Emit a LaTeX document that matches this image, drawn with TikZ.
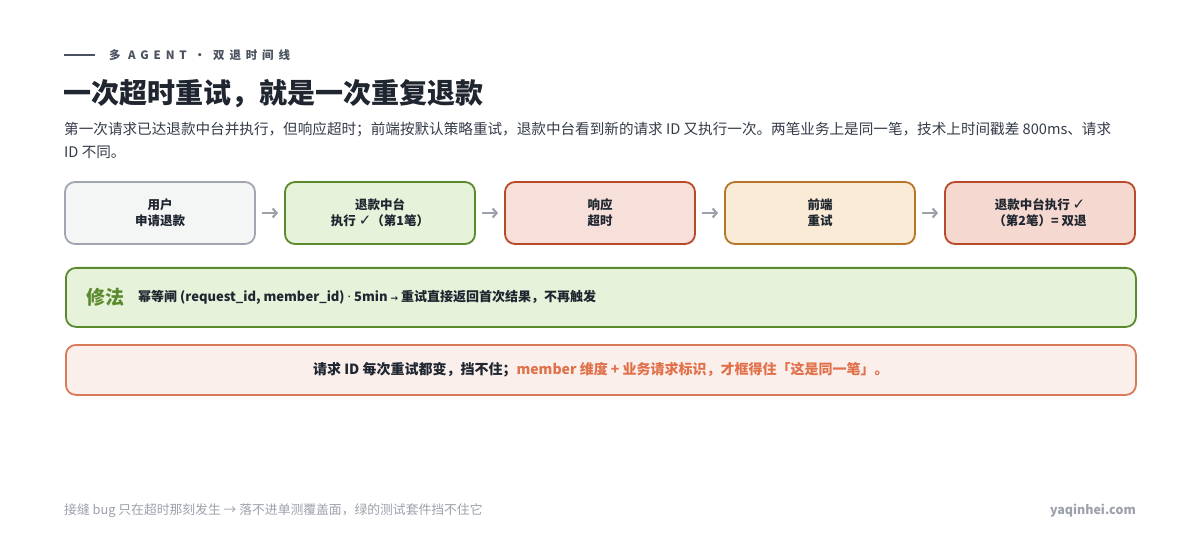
\documentclass[tikz,border=0pt]{standalone}
\usepackage{fontspec}
\setmainfont{Noto Sans CJK SC}
\newfontfamily\checkfont{DejaVu Sans}
\newfontfamily\latinfont{Noto Sans}
\usetikzlibrary{arrows.meta}
\definecolor{ink}{HTML}{1F2630}
\definecolor{subink}{HTML}{343C48}
\definecolor{muted}{HTML}{9CA1AB}
\definecolor{headink}{HTML}{4A5260}
\definecolor{grayfill}{HTML}{F4F6F6}
\definecolor{grayline}{HTML}{A0A5AF}
\definecolor{greenfill}{HTML}{E6F2DA}
\definecolor{greenline}{HTML}{5B8A2E}
\definecolor{redfill}{HTML}{F8E0DA}
\definecolor{redline}{HTML}{B84A2A}
\definecolor{amberfill}{HTML}{FAEBD6}
\definecolor{amberline}{HTML}{B5762A}
\definecolor{darkredfill}{HTML}{F5D8CF}
\definecolor{notefill}{HTML}{FBEFEC}
\definecolor{noteline}{HTML}{D97A5A}
\definecolor{noteorange}{HTML}{E0714A}
\newcommand{\chk}{{\checkfont\bfseries\fontsize{15}{16}\selectfont ✓}}
\tikzset{
  stepbox/.style={draw, line width=1.8pt, rounded corners=10pt, minimum width=190pt, minimum height=62pt,
    align=center, text=ink, font=\bfseries\fontsize{12.5}{16}\selectfont, inner sep=0pt},
  flowarrow/.style={draw=muted, line width=2.2pt, -{Straight Barb[length=4pt,width=9pt]}, shorten <=6pt, shorten >=6pt},
  widebox/.style={draw, line width=1.8pt, rounded corners=10pt, minimum width=1070pt, inner sep=0pt, anchor=north west},
}
\begin{document}
\begin{tikzpicture}[x=1pt,y=-1pt]
\useasboundingbox[fill=white] (0,0) rectangle (1200,540);
% header
\coordinate (hl1) at (64,55);
\coordinate (hl2) at (95,55);
\draw[headink, line width=1.5pt] (hl1) -- (hl2);
\node[anchor=base west, inner sep=0pt, text=headink, font=\bfseries\fontsize{11.5}{14}\selectfont\addfontfeatures{LetterSpace=42}] (kicker) at (109,59.5) {多 AGENT · 双退时间线};
% title
\node[anchor=base west, inner sep=0pt, text=ink, font=\bfseries\fontsize{28}{32}\selectfont] (title) at (63,104) {一次超时重试，就是一次重复退款};
% subtitle
\node[anchor=base west, inner sep=0pt, text=subink, align=left, font=\fontsize{14.6}{23}\selectfont] (sub) at (64,157.5)
 {第一次请求已达退款中台并执行，但响应超时；前端按默认策略重试，退款中台看到新的请求 ID 又执行一次。两笔业务上是同一笔，技术上时间戳差 800ms、请求\\ID 不同。};
% flow boxes
\node[stepbox, fill=grayfill, draw=grayline] (b1) at (160,213) {用户\\申请退款};
\node[stepbox, fill=greenfill, draw=greenline] (b2) at (380,213) {退款中台\\执行 \chk（第1笔）};
\node[stepbox, fill=redfill, draw=redline] (b3) at (600,213) {响应\\超时};
\node[stepbox, fill=amberfill, draw=amberline] (b4) at (820,213) {前端\\重试};
\node[stepbox, fill=darkredfill, draw=redline] (b5) at (1040,213) {退款中台执行 \chk\\（第2笔）= 双退};
\draw[flowarrow] (b1) -- (b2);
\draw[flowarrow] (b2) -- (b3);
\draw[flowarrow] (b3) -- (b4);
\draw[flowarrow] (b4) -- (b5);
% fix box
\node[widebox, fill=greenfill, draw=greenline, minimum height=59pt] (fix) at (65,267) {};
\node[anchor=west, inner sep=0pt, text=greenline, font=\bfseries\fontsize{19}{22}\selectfont] (fixlabel) at (86,297) {修法};
\node[anchor=west, inner sep=0pt, text=ink, font=\bfseries\fontsize{13}{16}\selectfont] (fixtext) at (138,297) {幂等闸 (request\_id, member\_id) {\latinfont ·} 5min {\checkfont\bfseries\fontsize{9}{12}\selectfont →} 重试直接返回首次结果，不再触发};
% note box
\node[widebox, fill=notefill, draw=noteline, minimum height=50pt] (note) at (65,344) {};
\node[inner sep=0pt, font=\bfseries\fontsize{14}{17}\selectfont] (notetext) at (note.center)
 {\textcolor{ink}{请求 ID 每次重试都变，挡不住；}\textcolor{noteorange}{member 维度 + 业务请求标识，才框得住「这是同一笔」。}};
% footer
\node[anchor=base west, inner sep=0pt, text=muted, font=\fontsize{12.8}{15}\selectfont] (foot) at (64,514) {接缝 bug 只在超时那刻发生 → 落不进单测覆盖面，绿的测试套件挡不住它};
\node[anchor=base east, inner sep=0pt, text=muted, font=\bfseries\fontsize{12.5}{15}\selectfont] (site) at (1136,514) {yaqinhei.com};
\end{tikzpicture}
\end{document}
